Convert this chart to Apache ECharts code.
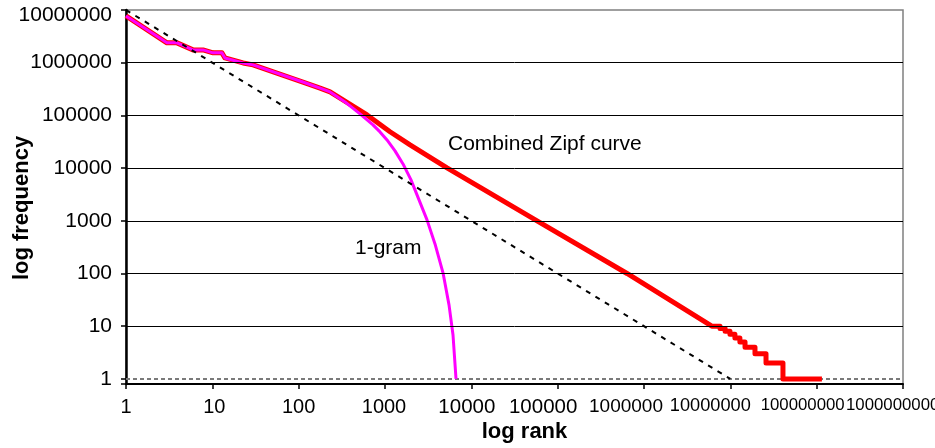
<!DOCTYPE html>
<html><head><meta charset="utf-8">
<script src="https://cdn.jsdelivr.net/npm/echarts@6/dist/echarts.min.js"></script>
<style>html,body{margin:0;padding:0;background:#fff}#c{width:935px;height:448px}</style>
</head><body><div id="c"></div>
<script>
// ---- data ----
const xTickLabels = ['1','10','100','1000','10000','100000','1000000','10000000','100000000','1000000000'];
const yTickLabels = ['1','10','100','1000','10000','100000','1000000','10000000'];
const gridFreqs = [10, 100, 1000, 10000, 100000, 1000000];

const combinedRank = [1, 2.98, 3.9, 5.97, 7.8, 10.2, 12.9, 14, 22.7, 29.6, 112, 177, 231, 620, 1143, 1950, 5230, 57700, 636000, 6100000,
  7600000, 7600000, 8700000, 8700000, 9900000, 9900000, 11300000, 11300000, 12900000, 12900000, 14800000, 14800000,
  19300000, 19300000, 25900000, 25900000, 40700000, 40700000, 115000000];
const combinedFreq = [7730000, 2380000, 2380000, 1750000, 1750000, 1540000, 1540000, 1230000, 990000, 910000, 430000, 330000, 279000, 102000, 49000, 27600, 10100, 1000, 100, 10,
  10, 9, 9, 8, 8, 7, 7, 6, 6, 5, 5, 4,
  4, 3, 3, 2, 2, 1, 1];

const unigramRank = [1, 2.98, 3.9, 5.97, 7.8, 10.2, 12.9, 14, 22.7, 29.6, 112, 177, 231, 344, 513, 726, 875, 1055, 1306, 1617, 2001, 2477, 3066, 3795, 4699, 5514, 6135, 6646];
const unigramFreq = [7730000, 2380000, 2380000, 1750000, 1750000, 1540000, 1540000, 1230000, 990000, 910000, 430000, 330000, 279000, 180400, 106800, 66000, 48600, 34300, 21200, 12000, 5970, 2490, 1040, 364, 103, 25.4, 6.8, 1];

const zipfRank = [1, 10000000];
const zipfFreq = [10000000, 1];

const oneRank = [1, 1000000000];
const oneFreq = [1, 1];

const notes = [
  {text: 'Combined Zipf curve', rank: 5370, freq: 28000},
  {text: '1-gram', rank: 449, freq: 306}
];

// label styling (mimics the uneven label placement of the original)
const xLabelSize = [20, 20, 20, 20, 20.5, 20.5, 19, 18.2, 16.8, 16.8];
const xLabelShift = [0, -2, 0, 1, 4.5, 14.5, 18, 20, 0, 0];

const zip = (a, b) => a.map((v, i) => [v, b[i]]);
const FONT = '"Liberation Sans", Arial, sans-serif';

const xRich = {};
xLabelSize.forEach((fs, i) => {
  const sh = xLabelShift[i];
  xRich['r' + i] = {fontFamily: FONT, fontSize: fs, color: '#000',
    padding: sh >= 0 ? [0, 2 * sh, 0, 0] : [0, 0, 0, -2 * sh]};
});
// the two last labels sit edge to edge, as in the original
xRich.r8 = Object.assign({}, xRich.r8, {padding: 0, width: 56, align: 'right'});
xRich.r9 = Object.assign({}, xRich.r9, {padding: 0, width: 114, align: 'left'});

const chart = echarts.init(document.getElementById('c'), null, {renderer: 'canvas'});
chart.setOption({
  animation: false,
  backgroundColor: '#fff',
  grid: {left: 126, right: 32, top: 10, bottom: 64, show: true, borderColor: '#808080', borderWidth: 1.5, backgroundColor: 'transparent', outerBoundsMode: 'none'},
  xAxis: {
    type: 'log', logBase: 10, min: 1, max: 1e9, splitNumber: 10,
    name: 'log rank', nameLocation: 'middle', nameGap: 37, nameMoveOverlap: false,
    nameTextStyle: {fontFamily: FONT, fontSize: 22, fontWeight: 'bold', color: '#000', padding: [0, 0, 0, 20]},
    axisLine: {lineStyle: {color: '#000', width: 2}},
    axisTick: {show: true, length: 5, lineStyle: {color: '#000', width: 1.5}},
    splitLine: {show: false},
    axisLabel: {
      margin: 13, color: '#000', fontFamily: FONT, fontSize: 20, showMinLabel: true, showMaxLabel: true, hideOverlap: false,
      formatter: function (v) {
        const i = Math.round(Math.log10(v));
        const s = xTickLabels[i];
        if (s === undefined) return '';
        return '{r' + i + '|' + s + '}';
      },
      rich: xRich
    }
  },
  yAxis: {
    type: 'log', logBase: 10, min: 0.8, max: 1e7, splitNumber: 10,
    name: 'log frequency', nameLocation: 'middle', nameGap: 93, nameRotate: 90, nameMoveOverlap: false,
    nameTextStyle: {fontFamily: FONT, fontSize: 22, fontWeight: 'bold', color: '#000', padding: [0, 22, 0, 0]},
    axisLine: {lineStyle: {color: '#000', width: 2.5}},
    axisTick: {show: true, length: 5, lineStyle: {color: '#000', width: 1.5}},
    splitLine: {show: false},
    axisLabel: {
      margin: 14, color: '#000', fontFamily: FONT, fontSize: 21, hideOverlap: false,
      formatter: function (v) {
        if (v < 0.99) return '';
        const i = Math.round(Math.log10(v));
        const s = yTickLabels[i];
        if (s === undefined) return '';
        if (i === 7) return '{t|' + s + '}';
        return s;
      },
      rich: {t: {fontFamily: FONT, fontSize: 21, color: '#000', padding: [10, 0, 0, 0]}}
    }
  },
  series: [
    {
      type: 'line', name: 'ones', data: zip(oneRank, oneFreq), symbol: 'none', silent: true, z: 2,
      lineStyle: {color: '#7a7a7a', width: 2, type: [4, 3]},
      markLine: {
        silent: true, symbol: 'none', animation: false,
        label: {show: false},
        lineStyle: {color: '#000', width: 1, type: 'solid'},
        emphasis: {disabled: true},
        data: gridFreqs.map(f => ({yAxis: f}))
      }
    },
    {
      type: 'line', name: 'Combined Zipf curve', data: zip(combinedRank, combinedFreq), symbol: 'none', z: 3,
      lineStyle: {color: '#ff0000', width: 5, join: 'round'},
      markPoint: {
        symbol: 'circle', symbolSize: 0, silent: true,
        data: notes.map(n => ({coord: [n.rank, n.freq], value: n.text})),
        label: {show: true, position: 'inside', align: 'left', verticalAlign: 'middle', formatter: p => p.value,
          fontFamily: FONT, fontSize: 21, color: '#000'}
      }
    },
    {
      type: 'line', name: '1-gram', data: zip(unigramRank, unigramFreq), symbol: 'none', z: 4,
      lineStyle: {color: '#ff00ff', width: 3, join: 'round'}
    },
    {
      type: 'line', name: 'zipf', data: zip(zipfRank, zipfFreq), symbol: 'none', z: 5,
      lineStyle: {color: '#000', width: 2, type: [5, 6]}
    }
  ]
});
</script>
</body></html>
